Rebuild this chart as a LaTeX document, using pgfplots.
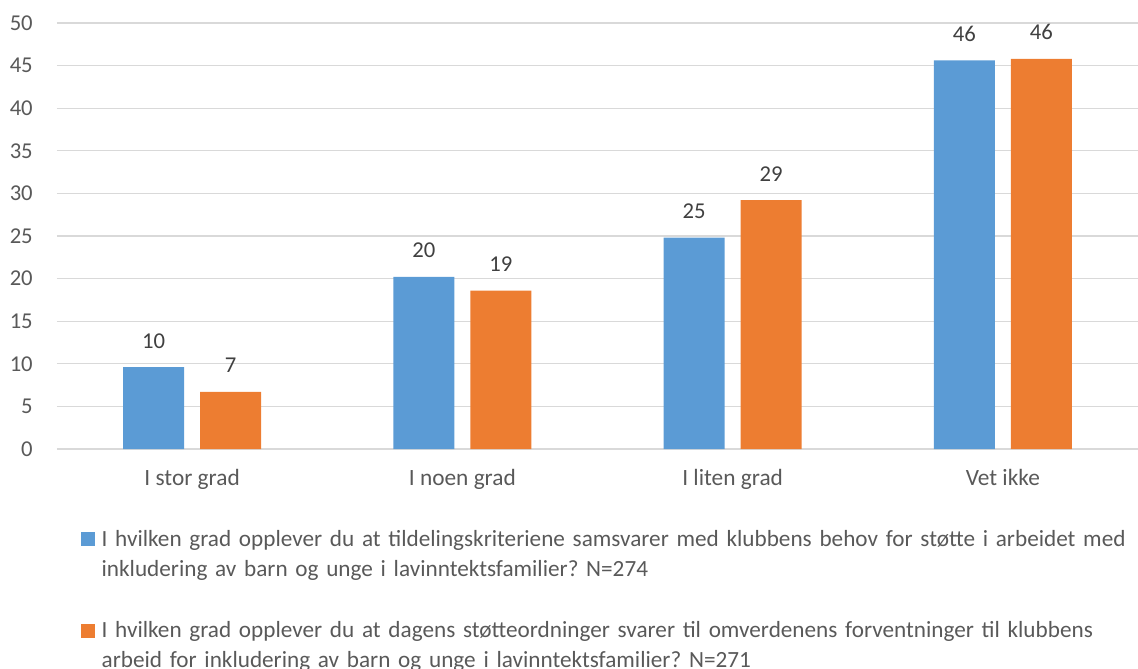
\documentclass[border=0pt]{standalone}
\usepackage{pgfplots}
\pgfplotsset{compat=1.18}
\usepackage{fontspec}
\setmainfont{Carlito}
\frenchspacing
\definecolor{cblue}{HTML}{5B9BD5}
\definecolor{corange}{HTML}{ED7D31}
\definecolor{ctext}{HTML}{595959}
\definecolor{clabel}{HTML}{404040}
\definecolor{cgrid}{HTML}{D9D9D9}
\begin{document}
\begin{tikzpicture}
\useasboundingbox (0,0) rectangle (853.5pt,501pt);
\begin{axis}[
  at={(42.75pt,164.25pt)}, anchor=south west,
  scale only axis, width=810.75pt, height=319.5pt,
  xmin=-0.5, xmax=3.5, ymin=0, ymax=50,
  ytick={0,5,...,50},
  xtick={0,1,2,3},
  xticklabels={I stor grad, I noen grad, I liten grad, Vet ikke},
  axis line style={draw=none},
  major tick length=0pt,
  ymajorgrids, grid style={cgrid, line width=1pt},
  ybar=12pt, bar width=45.75pt,
  tick label style={font=\fontsize{17.5pt}{21pt}\selectfont, text=ctext},
  /pgf/number format/assume math mode=true,
  yticklabel style={anchor=east, inner sep=0pt, xshift=-18pt, font=\fontsize{17pt}{21pt}\selectfont},
  xticklabel style={anchor=north, inner sep=0pt, yshift=-15pt},
  nodes near coords,
  nodes near coords style={font=\fontsize{17pt}{21pt}\selectfont, text=clabel,
    anchor=south, inner sep=0pt, yshift=14pt,
    /pgf/number format/.cd, fixed, precision=0, assume math mode=true},
  legend cell align=left,
  legend image code/.code={\fill (0pt,0pt) rectangle (10.5pt,10.5pt);},
  legend style={at={(axis description cs:0.0222,-0.191)}, anchor=north west,
    draw=none, fill=none, inner sep=0pt, outer sep=0pt,
    row sep=55pt, column sep=5pt,
    cells={anchor=base west},
    nodes={inner sep=0pt, text width=800pt, align=left,
      font=\fontsize{17.4pt}{22.5pt}\selectfont, text=ctext}},
]
\addplot[fill=cblue, draw=none] coordinates {(0,9.6) (1,20.2) (2,24.8) (3,45.6)};
\addplot[fill=corange, draw=none] coordinates {(0,6.7) (1,18.6) (2,29.2) (3,45.8)};
\legend{I hvilken grad opplever du at tildelingskriteriene samsvarer med klubbens behov for støtte i arbeidet med\\inkludering av barn og unge i lavinntektsfamilier? N=274,
I hvilken grad opplever du at dagens støtteordninger svarer til omverdenens forventninger til klubbens\\arbeid for inkludering av barn og unge i lavinntektsfamilier? N=271}
\end{axis}
\end{tikzpicture}
\end{document}
